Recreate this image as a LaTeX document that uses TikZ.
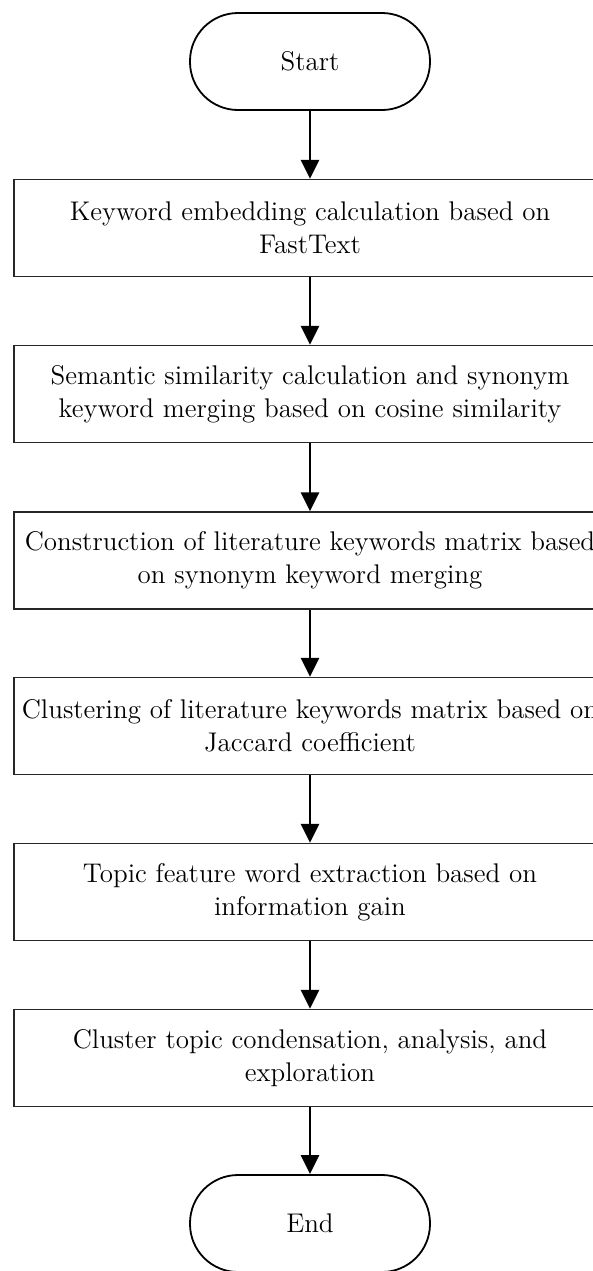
\documentclass[tikz,border=0pt]{standalone}
\usetikzlibrary{arrows.meta}
\begin{document}
\begin{tikzpicture}[x=0.5pt,y=-0.5pt,
  procbox/.style={draw=black!85,line width=0.75pt,minimum width=296pt,minimum height=48.5pt,
    align=center,inner sep=0pt,font=\fontsize{13.5}{16.5}\selectfont},
  term/.style={draw=black,line width=0.9pt,minimum width=120pt,minimum height=48.5pt,
    rounded corners=24pt,inner sep=0pt,font=\fontsize{13.5}{16.5}\selectfont},
  flow/.style={line width=1.4pt,-{Triangle[length=9.5pt,width=9pt]}}]
\useasboundingbox (0,0) rectangle (593,1271);
\clip (0,0) rectangle (593,1271);
\node[term] (start) at (310,61.5) {Start};
\node[procbox] (b1) at (310,228) {Keyword embedding calculation based on\\FastText};
\node[procbox] (b2) at (310,394) {Semantic similarity calculation and synonym\\keyword merging based on cosine similarity};
\node[procbox] (b3) at (310,560.5) {Construction of literature keywords matrix based\\on synonym keyword merging};
\node[procbox] (b4) at (310,726) {Clustering of literature keywords matrix based on\\Jaccard coefficient};
\node[procbox] (b5) at (310,892) {Topic feature word extraction based on\\information gain};
\node[procbox] (b6) at (310,1058) {Cluster topic condensation, analysis, and\\exploration};
\node[term] (end) at (310,1223.5) {End};
\draw[flow] (start) -- (b1);
\draw[flow] (b1) -- (b2);
\draw[flow] (b2) -- (b3);
\draw[flow] (b3) -- (b4);
\draw[flow] (b4) -- (b5);
\draw[flow] (b5) -- (b6);
\draw[flow] (b6) -- (end);
\end{tikzpicture}
\end{document}
